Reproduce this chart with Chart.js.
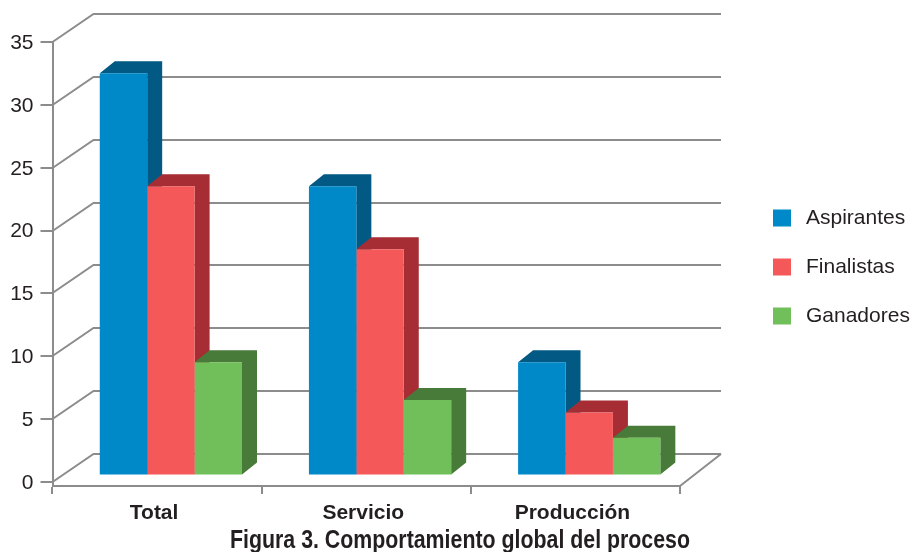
<!DOCTYPE html>
<html>
<head>
<meta charset="utf-8">
<title>Figura 3</title>
<script src="https://cdn.jsdelivr.net/npm/chart.js@4"></script>
<style>
    body { margin: 0; background: #ffffff; }
</style>
</head>
<body>
<canvas id="comportamiento" width="912" height="552"></canvas>
<script>
const categories = ['Total', 'Servicio', 'Producción'];
const aspirantes = [32, 23, 9];
const finalistas = [23, 18, 5];
const ganadores = [9, 6, 3];
const yTicks = [0, 5, 10, 15, 20, 25, 30, 35];

const gridColor = '#8c8c8c';
const textColor = '#231f20';

// depth of the box behind the axes
const wallDx = 41;
const wallDy = 28;
// bars stand in the middle of the floor, with their own smaller depth
const barShiftX = 13.8;
const barShiftY = -6.5;
const barDx = 15;
const barDy = 12;
// white outline around the legend swatch, keeps the text away from it
const swatchPad = 4.5;

const wallPlugin = {
    id: 'wall',
    beforeDatasetsDraw(chart) {
        const ctx = chart.ctx;
        const x = chart.scales.x;
        const y = chart.scales.y;
        ctx.save();
        ctx.strokeStyle = gridColor;
        ctx.lineWidth = 2;
        for (let i = 0; i < yTicks.length; i++) {
            const py = Math.round(y.getPixelForValue(yTicks[i]));
            ctx.beginPath();
            ctx.moveTo(x.left, py);
            ctx.lineTo(x.left + wallDx, py - wallDy);
            ctx.lineTo(x.right + wallDx, py - wallDy);
            ctx.stroke();
        }
        // right edge of the floor
        ctx.beginPath();
        ctx.moveTo(x.right, y.bottom);
        ctx.lineTo(x.right + wallDx, Math.round(y.getPixelForValue(0)) - wallDy);
        ctx.stroke();
        ctx.restore();

        // every bar gets moved onto the floor, restored in afterDatasetsDraw
        ctx.save();
        ctx.translate(barShiftX, barShiftY);

        // sides and tops go down first, left to right, fronts cover them after
        chart.data.datasets.forEach((dataset, i) => {
            ctx.fillStyle = dataset.sideColor;
            chart.getDatasetMeta(i).data.forEach(bar => {
                const left = bar.x - bar.width / 2;
                const right = bar.x + bar.width / 2;
                ctx.beginPath();
                ctx.moveTo(left, bar.y);
                ctx.lineTo(left + barDx, bar.y - barDy);
                ctx.lineTo(right + barDx, bar.y - barDy);
                ctx.lineTo(right + barDx, bar.base - barDy);
                ctx.lineTo(right, bar.base);
                ctx.lineTo(right, bar.y);
                ctx.closePath();
                ctx.fill();
            });
        });
    },
    afterDatasetsDraw(chart) {
        chart.ctx.restore();
    },
    afterLayout(chart) {
        // legend sits right of the box
        const legend = chart.legend;
        const padding = legend.options.labels.padding;
        legend.left = 773 - padding - swatchPad;
        legend.right = 912;
        legend.top = 205 - padding;
        legend.bottom = 420;
        // title box width also squeezes the text, it is set condensed
        chart.titleBlock.left = 230;
        chart.titleBlock.right = 690;
    }
};

const ctx = document.getElementById('comportamiento');

new Chart(ctx, {
    type: 'bar',
    data: {
        labels: categories,
        datasets: [
            { label: 'Aspirantes', data: aspirantes, backgroundColor: '#0089c9', sideColor: '#025a84', clip: false },
            { label: 'Finalistas', data: finalistas, backgroundColor: '#f45859', sideColor: '#a52d33', clip: false },
            { label: 'Ganadores', data: ganadores, backgroundColor: '#70bf5a', sideColor: '#487a39', clip: false }
        ]
    },
    options: {
        responsive: false,
        animation: false,
        layout: { padding: { top: 42, left: 0, right: 232, bottom: 0 } },
        datasets: { bar: { categoryPercentage: 0.68, barPercentage: 1 } },
        plugins: {
            legend: {
                position: 'chartArea',
                align: 'start',
                labels: {
                    boxWidth: 18 + swatchPad * 2,
                    boxHeight: 17 + swatchPad * 2,
                    padding: 23,
                    color: textColor,
                    font: { family: 'Liberation Sans', size: 21 },
                    generateLabels(chart) {
                        return Chart.defaults.plugins.legend.labels.generateLabels(chart).map(item => {
                            item.strokeStyle = '#ffffff';
                            item.lineWidth = swatchPad * 2;
                            return item;
                        });
                    }
                }
            },
            title: {
                display: true,
                position: 'bottom',
                text: 'Figura 3. Comportamiento global del proceso',
                color: textColor,
                font: { family: 'Liberation Sans', size: 25, weight: 'bold', lineHeight: 1 },
                padding: { top: 0, bottom: -2 }
            },
            tooltip: { enabled: false }
        },
        scales: {
            x: {
                offset: true,
                afterFit(scale) { scale.height = 43; },
                border: { color: gridColor, width: 2 },
                grid: { drawOnChartArea: false, color: gridColor, lineWidth: 2, tickLength: 8, offset: true },
                ticks: {
                    color: textColor,
                    labelOffset: -3,
                    padding: 7,
                    font: { family: 'Liberation Sans', size: 21, weight: 'bold' }
                }
            },
            y: {
                min: -0.32,
                max: 35,
                afterFit(scale) { scale.width = 52.5; },
                afterBuildTicks(scale) {
                    scale.ticks = yTicks.map(value => ({ value: value }));
                },
                border: { color: gridColor, width: 2 },
                grid: { drawOnChartArea: false, color: gridColor, lineWidth: 2, tickLength: 12 },
                ticks: {
                    color: textColor,
                    padding: 7,
                    labelOffset: 1,
                    font: { family: 'Liberation Sans', size: 21 }
                }
            }
        }
    },
    plugins: [wallPlugin]
});
</script>
</body>
</html>
